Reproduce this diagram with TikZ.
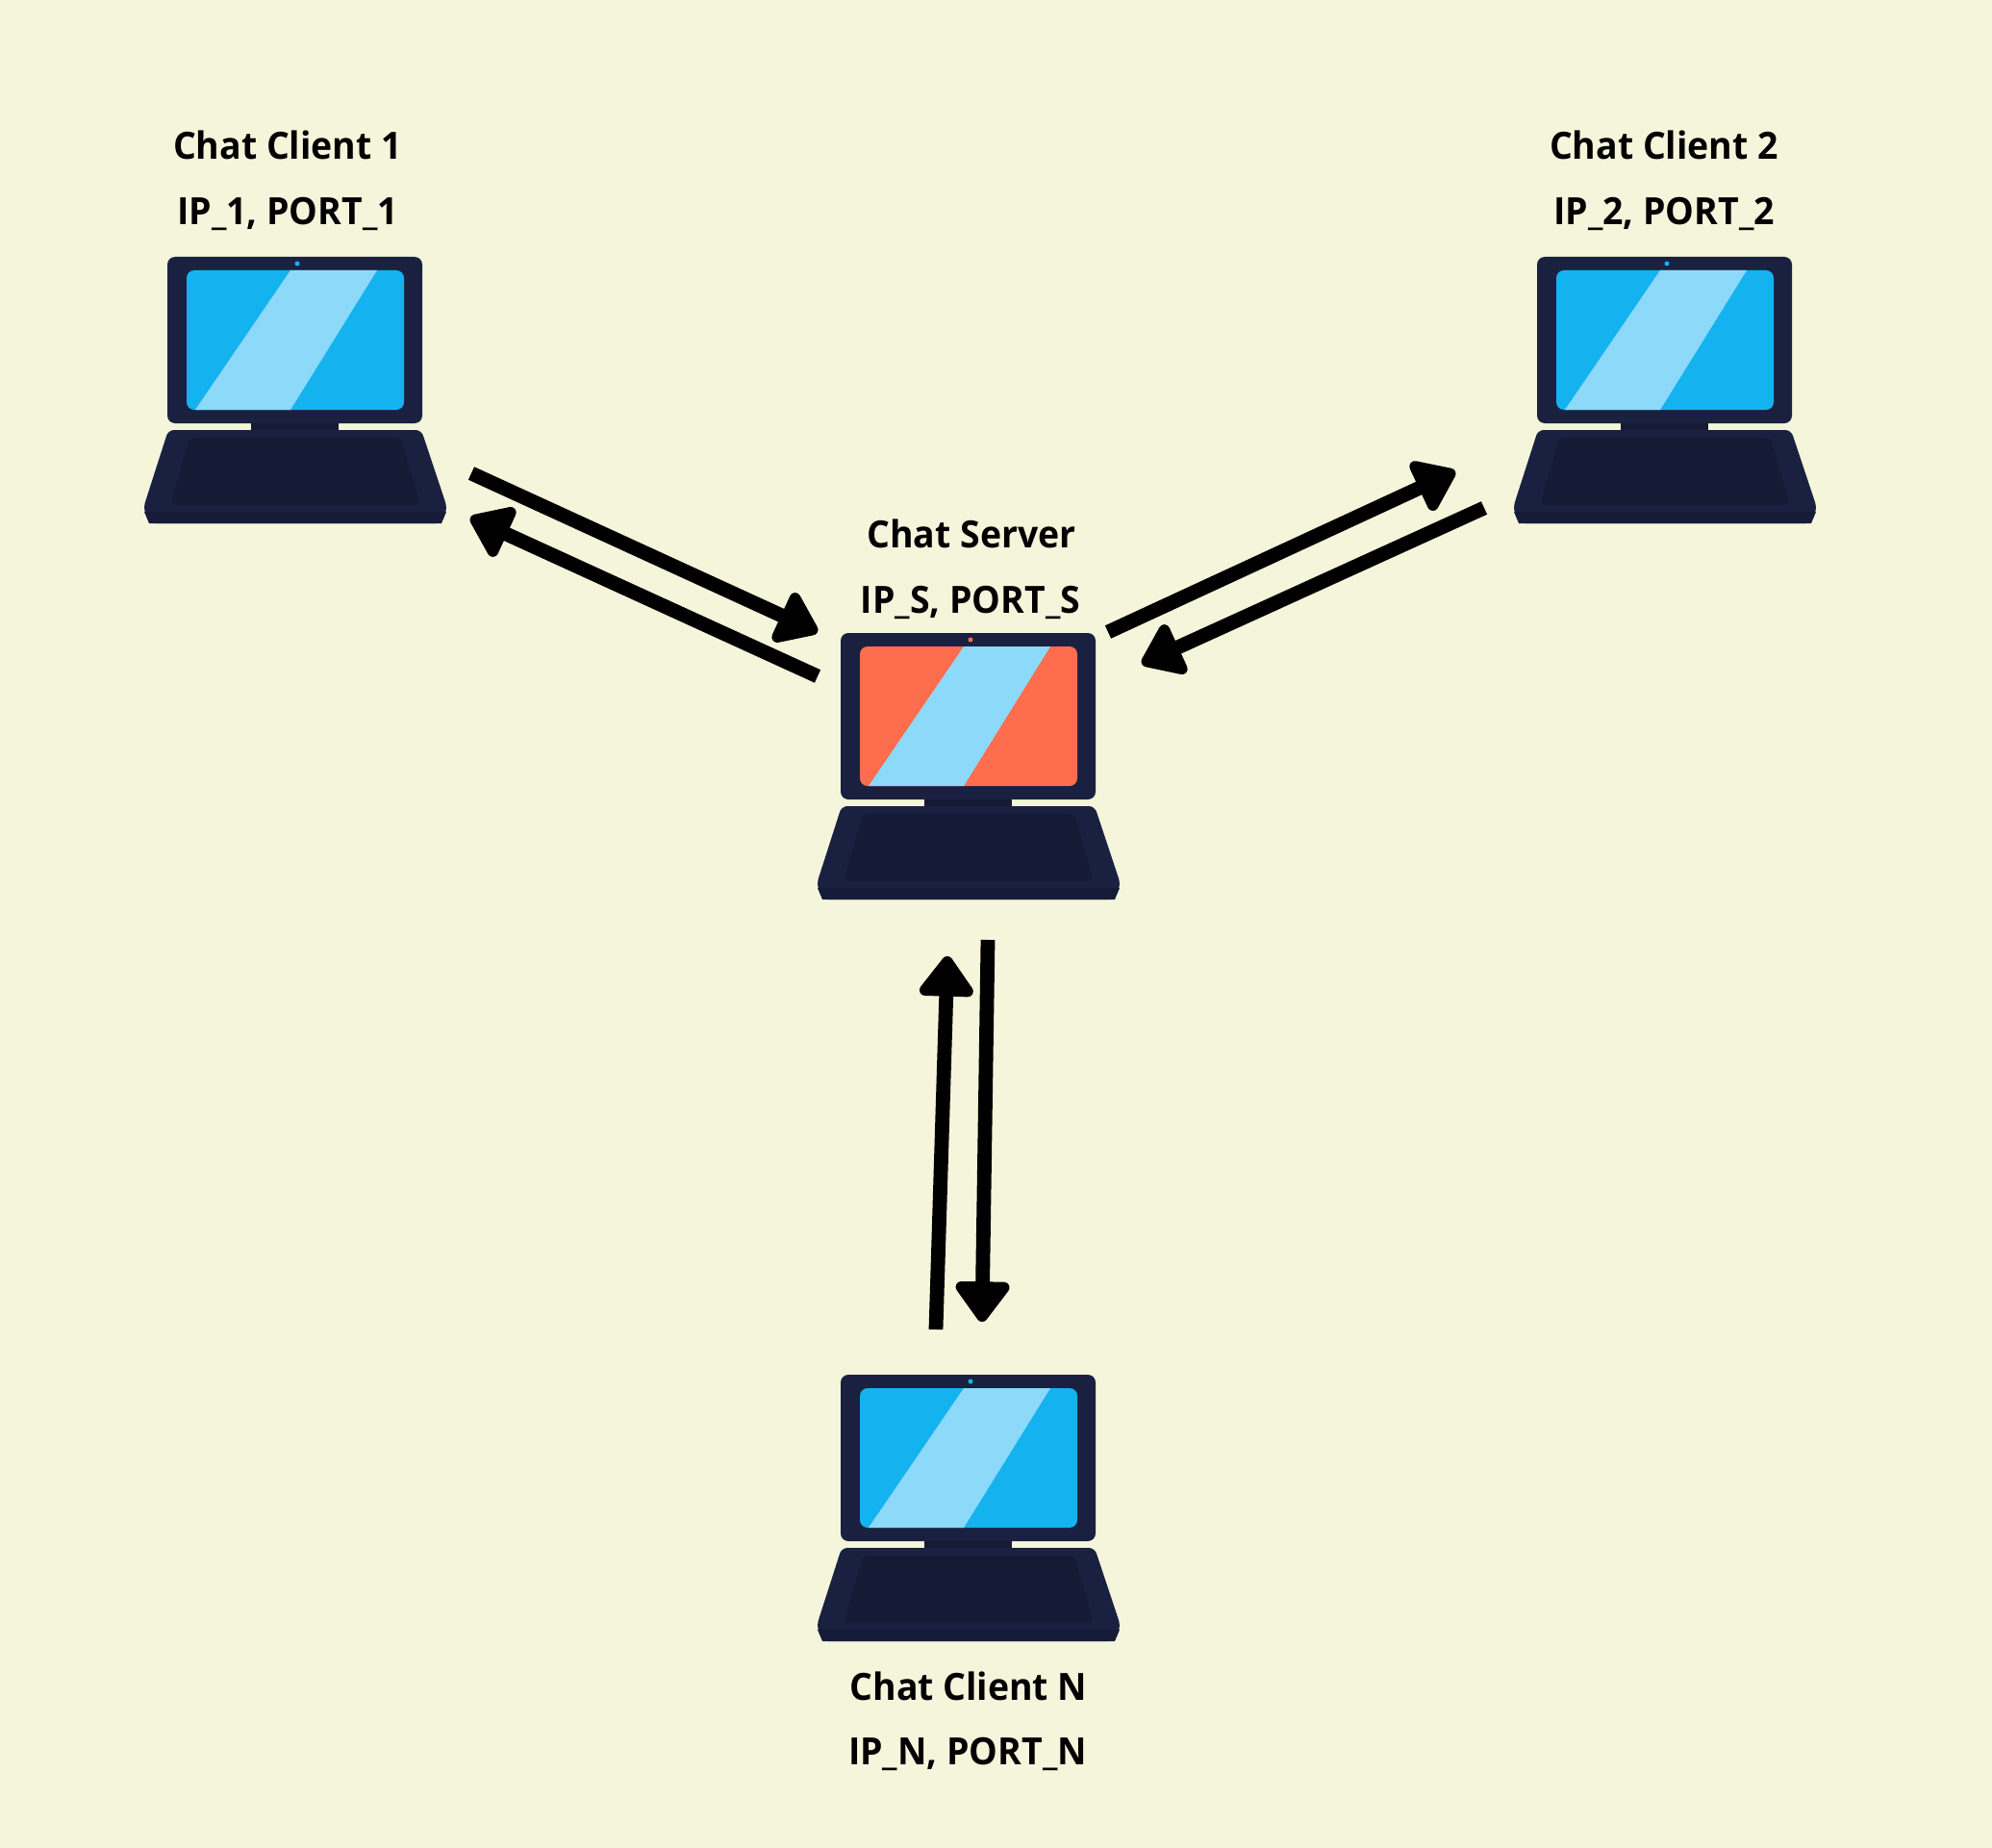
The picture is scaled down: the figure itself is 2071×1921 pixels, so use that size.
\documentclass[tikz,border=0pt]{standalone}
\usepackage{fontspec}
\setmainfont{Open Sans}[FakeStretch=0.96]
\usetikzlibrary{arrows.meta}
\definecolor{pagebg}{HTML}{F5F5DC}
\definecolor{framecol}{HTML}{1A2140}
\definecolor{keycol}{HTML}{151A35}
\definecolor{bandcol}{HTML}{151B38}
\definecolor{bluecol}{HTML}{15B2F0}
\definecolor{glarecol}{HTML}{8CD9F9}
\definecolor{redcol}{HTML}{FF6D4F}
\tikzset{
  lbl/.style={font=\fontsize{19.5pt}{22pt}\selectfont\bfseries,text=black,inner sep=0pt,anchor=base},
  link/.style={line width=7.4pt,-{Triangle[length=23pt,width=32pt,round,line width=6pt]}},
  laptop/.pic={
    % lid and hinge
    \fill[framecol,rounded corners=4] (-134,0) rectangle (131,173);
    \fill[keycol] (-47,173) rectangle (44,181);
    % screen
    \fill[\tikzpictextoptions,rounded corners=4] (-114,14) rectangle (112,159);
    \fill[glarecol] (-6,14) -- (84,14) -- (-6,159) -- (-105,159) -- cycle;
    \fill[\tikzpictextoptions] (1,7) circle (2.5);
    % base
    \fill[framecol,rounded corners=3] (-133,180) -- (130,180) -- (157,261) -- (151,277) -- (-153,277) -- (-159,261) -- cycle;
    \fill[bandcol] (-158,265) -- (156,265) -- (151,277) -- (-153,277) -- cycle;
    \fill[keycol,rounded corners=3] (-111,188) -- (109,188) -- (129,258) -- (-131,258) -- cycle;
  }
}
\begin{document}
\begin{tikzpicture}[x=0.5pt,y=-0.5pt]
\fill[pagebg] (0,0) rectangle (2071,1921);
% laptops
\foreach \n/\x/\y/\c in {one/308/267/bluecol,two/1732/267/bluecol,srv/1008/658/redcol,last/1008/1429/bluecol}{
  \coordinate (\n) at (\x,\y);
  \pic[pic text options={\c}] at (\n) {laptop};
}
% labels
\node[lbl] (name1) at (299,166) {Chat Client 1};
\node[lbl] (addr1) at (299,234) {IP\_1, PORT\_1};
\node[lbl] (name2) at (1730,166) {Chat Client 2};
\node[lbl] (addr2) at (1730,234) {IP\_2, PORT\_2};
\node[lbl] (names) at (1010,569) {Chat Server};
\node[lbl] (addrs) at (1009,637) {IP\_S, PORT\_S};
\node[lbl] (namen) at (1007,1767) {Chat Client N};
\node[lbl] (addrn) at (1006,1834) {IP\_N, PORT\_N};
% arrow ends
\coordinate (a1) at (490,492);
\coordinate (b1) at (850,657);
\coordinate (a2) at (850,703);
\coordinate (b2) at (489,538);
\coordinate (a3) at (1152,657);
\coordinate (b3) at (1513,490);
\coordinate (a4) at (1543,528);
\coordinate (b4) at (1187,690);
\coordinate (a5) at (973,1382);
\coordinate (b5) at (985,994);
\coordinate (a6) at (1027,977);
\coordinate (b6) at (1021,1374);
% arrows
\foreach \i in {1,...,6}{
  \draw[link] (a\i) -- (b\i);
}
\end{tikzpicture}
\end{document}
